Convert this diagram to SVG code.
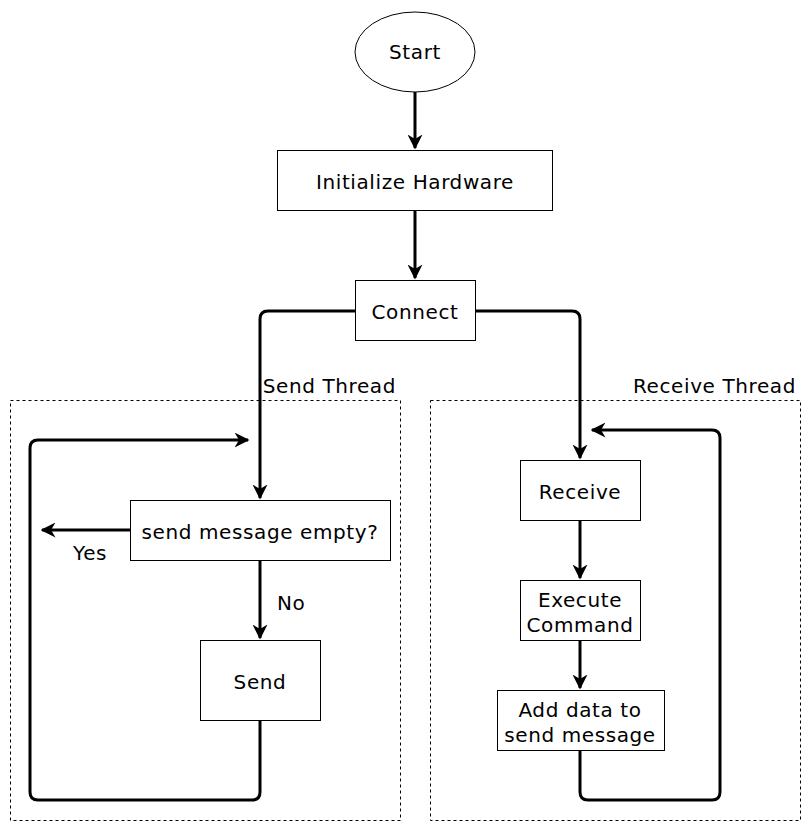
<svg xmlns="http://www.w3.org/2000/svg" width="811" height="831" viewBox="0 0 811 831">
<defs>
<marker id="arr" viewBox="0 0 10 10" refX="9" refY="5" markerWidth="5" markerHeight="5" orient="auto" markerUnits="strokeWidth">
<path d="M0,0 L10,5 L0,10 L3,5 Z" fill="#000"/>
</marker>
<style>
.node{fill:#fff;stroke:#000;stroke-width:1}
.grp{fill:none;stroke:#000;stroke-width:1;stroke-dasharray:3 3}
.t{font-family:"DejaVu Sans",Verdana,sans-serif;font-size:20px;letter-spacing:0.6px;fill:#000;text-anchor:middle}
.lbl{font-family:"DejaVu Sans",Verdana,sans-serif;font-size:20px;letter-spacing:0.6px;fill:#000}
.c{fill:none;stroke:#000;stroke-width:3;stroke-linejoin:round;marker-end:url(#arr)}
</style>
</defs>
<rect width="811" height="831" fill="#fff"/>
<g id="send-thread">
<rect class="grp" x="10.5" y="400.5" width="390" height="420"/>
<text class="lbl" x="396" y="393" text-anchor="end">Send Thread</text>
</g>
<g id="receive-thread">
<rect class="grp" x="430.5" y="400.5" width="370" height="420"/>
<text class="lbl" x="796" y="393" text-anchor="end">Receive Thread</text>
</g>
<g id="connectors">
<path class="c" d="M415,92 L415,148"/>
<path class="c" d="M415,210 L415,278"/>
<path class="c" d="M355,311 L268,311 Q260,311 260,319 L260,498"/>
<path class="c" d="M475,311 L572,311 Q580,311 580,319 L580,458"/>
<path class="c" d="M130,530 L42,530"/>
<path class="c" d="M260,560 L260,638"/>
<path class="c" d="M260,720 L260,792 Q260,800 252,800 L38,800 Q30,800 30,792 L30,448 Q30,440 38,440 L248,440"/>
<path class="c" d="M580,520 L580,578"/>
<path class="c" d="M580,640 L580,688"/>
<path class="c" d="M580,750 L580,792 Q580,800 588,800 L712,800 Q720,800 720,792 L720,438 Q720,430 712,430 L592,430"/>
<text class="lbl" x="73" y="560">Yes</text>
<text class="lbl" x="277" y="610">No</text>
</g>
<g id="start">
<ellipse class="node" cx="415" cy="52" rx="60" ry="40"/>
<text class="t" x="415" y="59">Start</text>
</g>
<g id="init">
<rect class="node" x="277.5" y="150.5" width="275" height="60"/>
<text class="t" x="415" y="189">Initialize Hardware</text>
</g>
<g id="connect">
<rect class="node" x="355.5" y="280.5" width="120" height="60"/>
<text class="t" x="415" y="319">Connect</text>
</g>
<g id="send-empty">
<rect class="node" x="130.5" y="500.5" width="260" height="60"/>
<text class="t" x="260" y="539">send message empty?</text>
</g>
<g id="send">
<rect class="node" x="200.5" y="640.5" width="120" height="80"/>
<text class="t" x="260" y="689">Send</text>
</g>
<g id="receive">
<rect class="node" x="520.5" y="460.5" width="120" height="60"/>
<text class="t" x="580" y="499">Receive</text>
</g>
<g id="execute">
<rect class="node" x="520.5" y="580.5" width="120" height="60"/>
<text class="t" x="580" y="607">Execute</text>
<text class="t" x="580" y="632">Command</text>
</g>
<g id="add-data">
<rect class="node" x="497.5" y="690.5" width="167" height="60"/>
<text class="t" x="580" y="717">Add data to</text>
<text class="t" x="580" y="742">send message</text>
</g>
</svg>
